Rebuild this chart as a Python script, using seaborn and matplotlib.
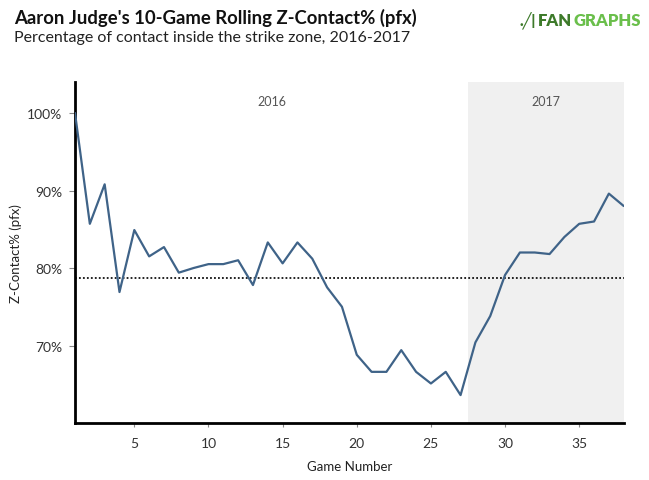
import matplotlib
matplotlib.use("Agg")
import matplotlib.pyplot as plt
import seaborn as sns
import pandas as pd
import numpy as np
from matplotlib.ticker import FuncFormatter

games = list(range(1, 39))
zcontact = [100.0, 85.7, 90.8, 76.9, 84.9, 81.5, 82.7, 79.4, 80.0, 80.5,
            80.5, 81.0, 77.8, 83.3, 80.6, 83.3, 81.2, 77.5, 75.0, 68.8,
            66.6, 66.6, 69.4, 66.6, 65.1, 66.6, 63.6, 70.4, 73.8, 79.1,
            82.0, 82.0, 81.8, 84.0, 85.7, 86.0, 89.6, 88.0]
season_2017_start = 27.5
avg_line = 78.7
y_ticks = [70, 80, 90, 100]
x_ticks = [5, 10, 15, 20, 25, 30, 35]

df = pd.DataFrame({"game": games, "zc": zcontact})

sns.set_theme(style="white")
plt.rcParams['font.family'] = ['Lato', 'DejaVu Sans']

fig = plt.figure(figsize=(6.49, 4.81), dpi=100)
ax = fig.add_axes([75/649, 1-424/481, (623.7-75)/649, (424-83)/481])

ax.axvspan(season_2017_start, 38, color="#f0f0f0", zorder=0, lw=0)
ax.axhline(avg_line, color="#111111", ls=(0, (1, 1.2)), lw=1.3, zorder=1)
sns.lineplot(data=df, x="game", y="zc", ax=ax, color="#3f6388", lw=1.6, zorder=3)

ax.set_xlim(1, 38)
ax.set_ylim(60, 104)
ax.set_xticks(x_ticks)
ax.set_yticks(y_ticks)
ax.yaxis.set_major_formatter(FuncFormatter(lambda v, p: f"{int(v)}%"))

for s in ["top", "right"]:
    ax.spines[s].set_visible(False)
for s in ["left", "bottom"]:
    ax.spines[s].set_color("black")
    ax.spines[s].set_linewidth(2)

ax.tick_params(axis="both", which="major", length=4, width=0.8, color="#888888",
               labelsize=10, labelcolor="#333333", bottom=True, left=True, pad=5)
ax.tick_params(axis="x", length=3, pad=7)
ax.set_xlabel("Game Number", fontsize=9.5, color="#222222", labelpad=8)
ax.set_ylabel("Z-Contact% (pfx)", fontsize=9.5, color="#222222", labelpad=4)

ax.text(14.25, 101.6, "2016", ha="center", va="center", fontsize=9, color="#555555")
ax.text(32.75, 101.6, "2017", ha="center", va="center", fontsize=9, color="#555555")

fig.text(14/649, 1-18/481, "Aaron Judge's 10-Game Rolling Z-Contact% (pfx)", fontsize=13.3,
         fontweight="bold", color="#111111", ha="left", va="center")
fig.text(14/649, 1-38/481, "Percentage of contact inside the strike zone, 2016-2017", fontsize=11.5,
         color="#222222", ha="left", va="center")

# logo, placed piece by piece without overlap
renderer = fig.canvas.get_renderer()
x_px = 520
pieces = [(".\u2571|", "#3d7a2a", 10.5), ("FAN", "#3d7a2a", 12), ("GRAPHS", "#6abf4b", 12)]
for txt, col, fs in pieces:
    t = fig.text(x_px/649, 1-21/481, txt, fontsize=fs, fontweight="heavy", color=col,
                 ha="left", va="center")
    bb = t.get_window_extent(renderer=renderer)
    x_px = bb.x1 + 1.5

fig.savefig("out.png", dpi=100)
